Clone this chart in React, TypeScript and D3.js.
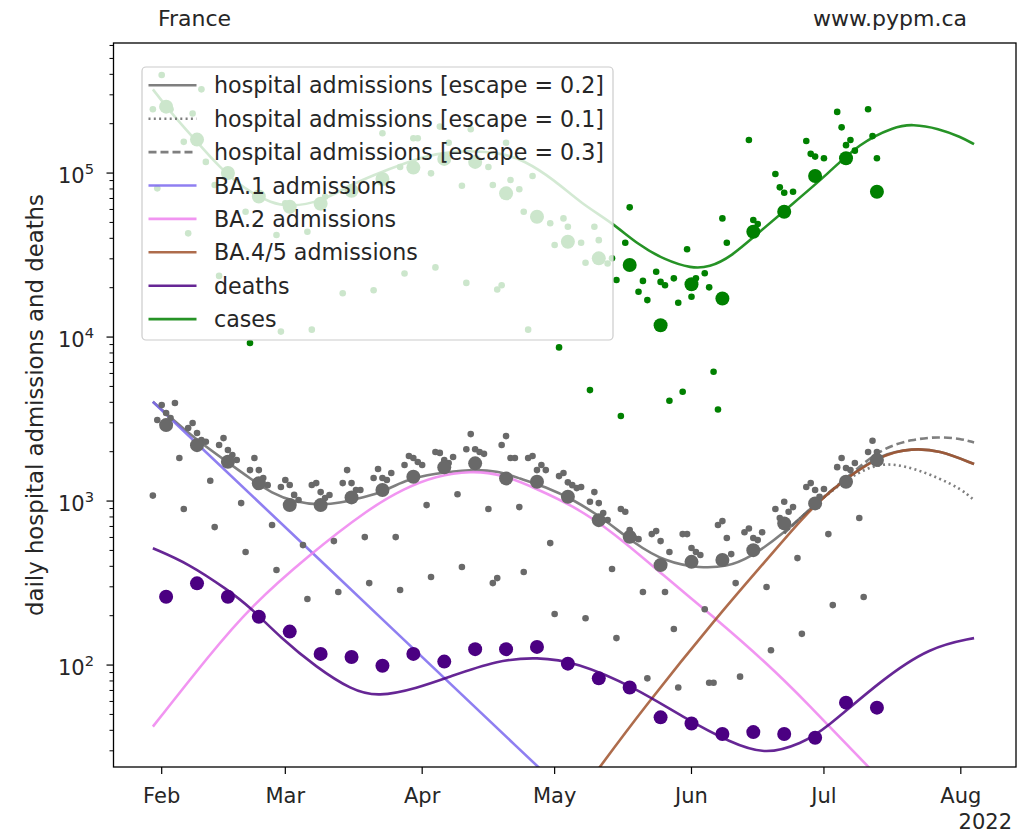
import React from 'react';
import * as d3 from 'd3';

const W = 1030, H = 833;
const M = { left: 113.5, right: 1016, top: 43, bottom: 767 };
const FONT = 'DejaVu Sans, Verdana, sans-serif';

const X_START = Date.UTC(2022, 0, 21, 2);
const X_END = Date.UTC(2022, 7, 13, 12);
const Y_DOMAIN = [23.9, 621000];

const MONTH_TICKS = ['2022-02-01', '2022-03-01', '2022-04-01', '2022-05-01', '2022-06-01', '2022-07-01', '2022-08-01'];
const MONTH_LABELS = ['Feb', 'Mar', 'Apr', 'May', 'Jun', 'Jul', 'Aug'];
const Y_MAJOR = [100, 1000, 10000, 100000];
const Y_EXP = ['2', '3', '4', '5'];

// daily hospital admissions, consecutive days from 2022-01-30
const HOSP_START = '2022-01-30';
const hospDaily = [
  1080,
  3120, 3850, 3440, 3210, 3960, 1830, 894,
  2790, 2990, 2600, 2355, 2300, 1330, 694,
  2195, 2420, 2050, 1910, 1780, 972, 489,
  1545, 1830, 1545, 1380, 1250, 714, 380,
  1217, 1343, 1252, 1090, 1014, 539, 253,
  1252, 1287, 1134, 1043, 1088, 570, 279,
  1287, 1545, 1287, 1167, 1167, 603, 316,
  1381, 1570, 1381, 1343, 1482, 603, 287,
  1658, 1882, 1829, 1730, 1658, 945, 344,
  1990, 1966, 1778, 1705, 1857, 1100, 396,
  2070, 2560, 2070, 1990, 1940, 894, 316,
  339, 2195, 2490, 1829, 1829, 919, 369,
  1829, 1882, 1545, 1658, 1545, 554, 205,
  1420, 1482, 1300, 1250, 1200, 1217, 193,
  990, 1134, 972, 845, 766, 385, 146,
  894, 860, 666, 595, 586, 279, 83,
  629, 656, 570, 279, 489, 166, 73,
  629, 629, 517, 489, 469, 219, 78,
  78, 714, 755, 595, 475, 316, 85,
  645, 680, 595, 578, 645, 299, 123,
  894, 788, 990, 860, 919, 449, 155,
  1217, 1287, 1167, 1060, 1185, 629, 232,
  1610, 1829, 1590, 1545, 1705, 788, 260,
  1990, 2330, 1990,
];

// weekly points, every 7 days from 2022-02-02
const WEEK_START = '2022-02-02';
const hospWeekly = [2906, 2193, 1736, 1283, 945, 945, 1053, 1167, 1407, 1605, 1698, 1375, 1311, 1062, 765, 605, 407, 426, 437, 502, 731, 968, 1311, 1778];
const deathsWeekly = [261, 315, 261, 197, 160, 117, 112, 99, 117, 105, 125, 125, 129, 102, 83, 73, 48, 44, 38, 39, 38, 36, 59, 55];
const casesWeekly = [254000, 160000, 100000, 72000, 62300, 65000, 78000, 92000, 108000, 122000, 117000, 75200, 54100, 38100, 30200, 27500, 11800, 21000, 17200, 43900, 58100, 95900, 123000, 76900];

// daily cases (visible points)
const caseDates = [
  '01-30', '01-31', '02-01', '02-03', '02-06', '02-07', '02-08', '02-10', '02-11', '02-13',
  '02-14', '02-20', '02-21', '02-27', '02-28', '03-01', '03-06', '03-07', '03-09', '03-10',
  '03-14', '03-21', '03-23', '03-27', '03-28', '03-30', '03-31', '04-03', '04-04', '04-05',
  '04-07', '04-10', '04-11', '04-12', '04-16', '04-17', '04-18', '04-19', '04-20', '04-21',
  '04-23', '04-24', '04-25', '04-26', '04-30', '05-01', '05-02', '05-03', '05-04', '05-07',
  '05-08', '05-09', '05-10', '05-11', '05-13', '05-14', '05-15', '05-16', '05-17', '05-18',
  '05-20', '05-21', '05-22', '05-24', '05-25', '05-26', '05-27', '05-28', '05-29', '05-30',
  '05-31', '06-01', '06-02', '06-04', '06-05', '06-06', '06-07', '06-08', '06-09', '06-14',
  '06-15', '06-16', '06-20', '06-21', '06-22', '06-24', '06-27', '06-28', '06-29', '07-01',
  '07-04', '07-05', '07-06', '07-07', '07-08', '07-11', '07-12', '07-13',
];
const caseValues = [
  245000, 80700, 396000, 245000, 155000, 42900, 231000, 324000, 117000, 84500,
  23600, 58100, 9200, 41900, 10800, 65300, 43900, 11100, 65300, 71700,
  18500, 19300, 175000, 109000, 24400, 163000, 163000, 99600, 26600, 192000,
  153000, 83700, 21400, 185000, 109000, 84500, 19500, 20700, 153000, 90800,
  79600, 58100, 11100, 95900, 49400, 36400, 8650, 52900, 47100, 37600,
  28400, 4750, 47100, 39000, 28100, 30200, 22300, 3300, 37600, 61800,
  18900, 22000, 16800, 25000, 21700, 20700, 4090, 22800, 16200, 4640,
  34300, 17600, 22800, 24500, 20100, 6140, 3620, 52900, 37600, 159000,
  51700, 48900, 98600, 81800, 75900, 76900, 157000, 131000, 126000, 123000,
  236000, 190000, 148000, 159000, 137000, 245000, 168000, 123000,
];

// model curves
const hospModelDates = ['01-30', '02-04', '02-09', '02-16', '02-21', '02-26', '03-03', '03-09', '03-13', '03-19', '03-23', '03-28', '04-04', '04-12', '04-18', '04-23', '04-29', '05-05', '05-12', '05-19', '05-26', '06-03', '06-09', '06-14', '06-22', '06-29', '07-07', '07-14', '07-21', '07-27', '08-04'];
const hospModel02 = [4030, 3060, 2355, 1720, 1375, 1114, 990, 945, 968, 1062, 1130, 1343, 1476, 1561, 1530, 1375, 1222, 1028, 785, 552, 426, 389, 398, 447, 636, 960, 1441, 1930, 2096, 2047, 1681];
const escapeDates = ['06-22', '06-29', '07-07', '07-14', '07-21', '07-27', '08-01', '08-04'];
const hospModel01 = [636, 960, 1420, 1740, 1600, 1380, 1190, 1014];
const hospModel03 = [636, 960, 1450, 2100, 2380, 2470, 2400, 2279];

const ba1Dates = ['01-30', '03-06', '04-27', '05-20'];
const ba1Values = [4030, 516, 24.3, 6.3];

const ba2Dates = ['01-30', '02-12', '02-21', '03-06', '03-20', '03-28', '04-04', '04-12', '04-19', '04-27', '05-05', '05-14', '05-26', '06-06', '06-18', '06-27', '07-11', '07-25'];
const ba2Values = [42.1, 117, 225, 461, 903, 1195, 1420, 1530, 1460, 1185, 940, 656, 346, 197, 103, 59.5, 24, 9.8];

const ba45Dates = ['05-01', '05-11', '05-21', '06-07', '06-18', '06-26', '07-03', '07-14', '07-21', '07-27', '08-04'];
const ba45Values = [10, 23.5, 54, 200, 437, 780, 1210, 1930, 2096, 2047, 1681];

const deathDates = ['01-30', '02-07', '02-16', '02-21', '02-28', '03-08', '03-16', '03-22', '03-31', '04-07', '04-18', '04-27', '05-06', '05-19', '05-30', '06-10', '06-18', '06-26', '07-01', '07-14', '07-25', '08-04'];
const deathValues = [516, 417, 287, 226, 146, 97.2, 70.4, 63.8, 72.4, 84.5, 107, 112, 104, 73.4, 48.2, 33.4, 28.3, 33.4, 40.1, 81, 129, 146];

const caseModelDates = ['01-30', '02-03', '02-09', '02-14', '02-20', '02-26', '03-02', '03-09', '03-15', '03-21', '03-28', '04-04', '04-12', '04-19', '04-24', '05-01', '05-07', '05-14', '05-20', '05-26', '06-01', '06-05', '06-10', '06-16', '06-24', '07-02', '07-09', '07-17', '07-21', '07-27', '08-01', '08-04'];
const caseModelValues = [324000, 235000, 155000, 109000, 78800, 65300, 62300, 66800, 82500, 97200, 115000, 132000, 138000, 132000, 120000, 90600, 65300, 49900, 36400, 29500, 26200, 26600, 30900, 42900, 65300, 99600, 152000, 192000, 199000, 187000, 166000, 150000];

const COLORS = {
  hosp: '#696969',
  ba1: '#7b68ee',
  ba2: '#ee82ee',
  ba45: '#a0522d',
  deaths: '#4b0082',
  cases: '#008000',
};

const LEGEND = [
  { label: 'hospital admissions [escape = 0.2]', color: COLORS.hosp, dash: null },
  { label: 'hospital admissions [escape = 0.1]', color: COLORS.hosp, dash: '2,3.3' },
  { label: 'hospital admissions [escape = 0.3]', color: COLORS.hosp, dash: '8,4' },
  { label: 'BA.1 admissions', color: COLORS.ba1, dash: null },
  { label: 'BA.2 admissions', color: COLORS.ba2, dash: null },
  { label: 'BA.4/5 admissions', color: COLORS.ba45, dash: null },
  { label: 'deaths', color: COLORS.deaths, dash: null },
  { label: 'cases', color: COLORS.cases, dash: null },
];

const md = (s: string) => new Date('2022-' + s + 'T00:00:00Z');
const pd = (s: string) => new Date(s + 'T00:00:00Z');
const addDays = (d: Date, n: number) => new Date(d.getTime() + n * 86400000);

type Pt = { date: Date; value: number };
const zip = (dates: string[], vals: number[]): Pt[] => dates.map((d, i) => ({ date: md(d), value: vals[i] }));

export default function App() {
  const x = d3.scaleUtc().domain([new Date(X_START), new Date(X_END)]).range([M.left, M.right]);
  const y = d3.scaleLog().domain(Y_DOMAIN).range([M.bottom, M.top]);

  const line = d3.line<Pt>()
    .x((d) => x(d.date))
    .y((d) => y(d.value))
    .curve(d3.curveBasis);

  const hs = pd(HOSP_START);
  const hospPts = hospDaily.map((v, i) => ({ date: addDays(hs, i), value: v }));
  const ws = pd(WEEK_START);
  const weekPts = (arr: number[]) => arr.map((v, i) => ({ date: addDays(ws, 7 * i), value: v }));
  const casePts = zip(caseDates, caseValues);

  const minorTicks: number[] = [];
  for (let e = 1; e <= 5; e++) {
    for (let k = 2; k <= 9; k++) {
      const v = k * Math.pow(10, e);
      if (v >= Y_DOMAIN[0] && v <= Y_DOMAIN[1]) minorTicks.push(v);
    }
  }

  const lines = [
    { pts: zip(caseModelDates, caseModelValues), color: COLORS.cases, dash: null },
    { pts: zip(hospModelDates, hospModel02), color: COLORS.hosp, dash: null },
    { pts: zip(escapeDates, hospModel01), color: COLORS.hosp, dash: '2,3.3' },
    { pts: zip(escapeDates, hospModel03), color: COLORS.hosp, dash: '8,4' },
    { pts: zip(ba1Dates, ba1Values), color: COLORS.ba1, dash: null },
    { pts: zip(ba2Dates, ba2Values), color: COLORS.ba2, dash: null },
    { pts: zip(ba45Dates, ba45Values), color: COLORS.ba45, dash: null },
    { pts: zip(deathDates, deathValues), color: COLORS.deaths, dash: null },
  ];

  const legX = 142, legY = 67, legW = 471, legH = 273;
  const rowY0 = 85.3, rowStep = 33.4;
  const LW = 2.6;

  return (
    <svg width={W} height={H} style={{ position: 'absolute', left: 0, top: 0, background: '#fff' }} fontFamily={FONT}>
      <defs>
        <clipPath id="plot">
          <rect x={M.left} y={M.top} width={M.right - M.left} height={M.bottom - M.top} />
        </clipPath>
      </defs>
      <rect x={0} y={0} width={W} height={H} fill="#fff" />

      <g clipPath="url(#plot)">
        {lines.map((l, i) => (
          <path key={i} d={line(l.pts) || ''} fill="none" stroke={l.color} strokeOpacity={0.85}
            strokeWidth={LW} strokeDasharray={l.dash || undefined} />
        ))}
        {hospPts.map((d, i) => (
          <circle key={'h' + i} cx={x(d.date)} cy={y(d.value)} r={3.3} fill={COLORS.hosp} />
        ))}
        {weekPts(hospWeekly).map((d, i) => (
          <circle key={'hw' + i} cx={x(d.date)} cy={y(d.value)} r={7} fill={COLORS.hosp} />
        ))}
        {weekPts(deathsWeekly).map((d, i) => (
          <circle key={'dw' + i} cx={x(d.date)} cy={y(d.value)} r={7} fill={COLORS.deaths} />
        ))}
        {casePts.map((d, i) => (
          <circle key={'c' + i} cx={x(d.date)} cy={y(d.value)} r={3.3} fill={COLORS.cases} />
        ))}
        {weekPts(casesWeekly).map((d, i) => (
          <circle key={'cw' + i} cx={x(d.date)} cy={y(d.value)} r={7} fill={COLORS.cases} />
        ))}
      </g>

      {/* legend */}
      <rect x={legX} y={legY} width={legW} height={legH} rx={4} fill="#fff" fillOpacity={0.8} stroke="#cccccc" strokeWidth={1.2} />
      {LEGEND.map((l, i) => {
        const ry = rowY0 + i * rowStep;
        return (
          <g key={'lg' + i}>
            <line x1={148.5} x2={196.5} y1={ry} y2={ry} stroke={l.color} strokeOpacity={0.85} strokeWidth={LW}
              strokeDasharray={l.dash || undefined} />
            <text x={214} y={ry} dominantBaseline="central" fontSize={22.2} fill="#262626">{l.label}</text>
          </g>
        );
      })}

      {/* axes frame */}
      <rect x={M.left} y={M.top} width={M.right - M.left} height={M.bottom - M.top} fill="none" stroke="#000" strokeWidth={1.3} />

      {/* x ticks */}
      {MONTH_TICKS.map((t, i) => {
        const xx = x(pd(t));
        return (
          <g key={'xt' + i}>
            <line x1={xx} x2={xx} y1={M.bottom} y2={M.bottom + 7} stroke="#000" strokeWidth={1.2} />
            <text x={xx} y={796} textAnchor="middle" dominantBaseline="central" fontSize={21} fill="#262626">{MONTH_LABELS[i]}</text>
          </g>
        );
      })}
      <text x={1012} y={822} textAnchor="end" dominantBaseline="central" fontSize={21} fill="#262626">2022</text>

      {/* y ticks */}
      {minorTicks.map((v, i) => (
        <line key={'ym' + i} x1={M.left - 4} x2={M.left} y1={y(v)} y2={y(v)} stroke="#000" strokeWidth={1} />
      ))}
      {Y_MAJOR.map((v, i) => (
        <g key={'yt' + i}>
          <line x1={M.left - 7} x2={M.left} y1={y(v)} y2={y(v)} stroke="#000" strokeWidth={1.2} />
          <text x={94} y={y(v) + 3} textAnchor="end" dominantBaseline="central" fontSize={21} fill="#262626">
            10<tspan dy={-8} fontSize={14.7}>{Y_EXP[i]}</tspan>
          </text>
        </g>
      ))}
      <text transform={`translate(35,${(M.top + M.bottom) / 2}) rotate(-90)`} textAnchor="middle" dominantBaseline="central" fontSize={22.8} fill="#262626">
        daily hospital admissions and deaths
      </text>

      <text x={158} y={18} dominantBaseline="central" fontSize={22} fill="#262626">France</text>
      <text x={967} y={18} textAnchor="end" dominantBaseline="central" fontSize={22} fill="#262626">www.pypm.ca</text>
    </svg>
  );
}
